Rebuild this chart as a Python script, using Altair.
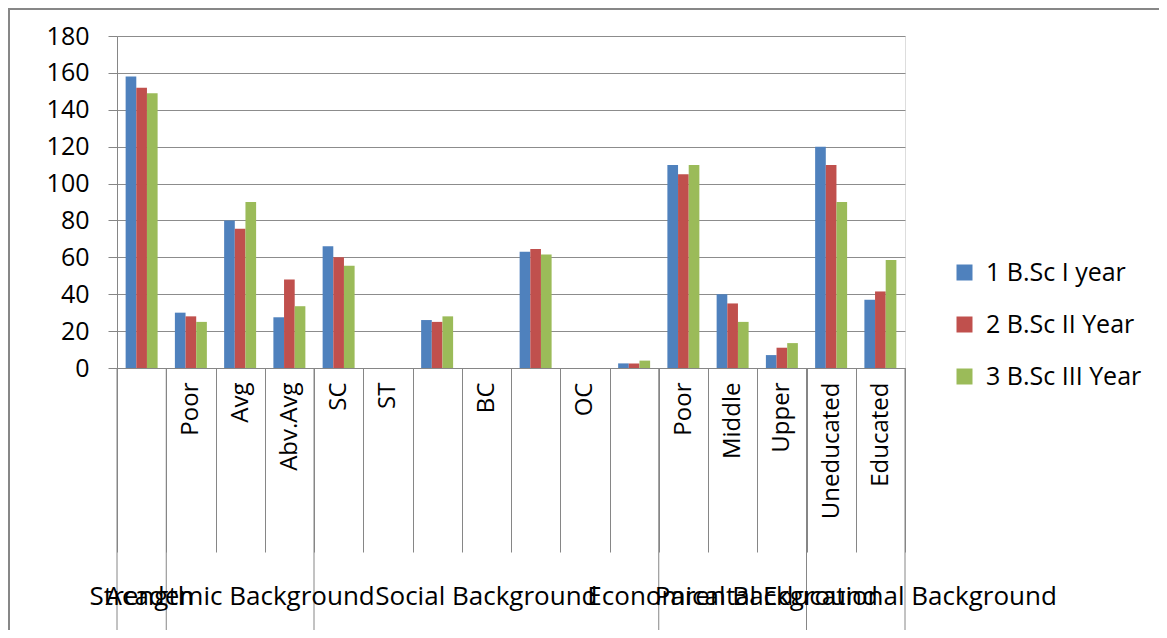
import altair as alt
import pandas as pd

# ---- data ----
cat_ids = list(range(16))
level1 = ["", "Poor", "Avg", "Abv.Avg", "SC", "ST", "", "BC", "", "OC", "",
          "Poor", "Middle", "Upper", "Uneducated", "Educated"]
series = ["1 B.Sc I year", "2 B.Sc II Year", "3 B.Sc III Year"]
y_first = [158, 30, 80, 27.5, 66, None, 26, None, 63, None, 2.5, 110, 40, 7, 120, 37]
y_second = [152, 28, 75.5, 48, 60, None, 25, None, 64.5, None, 2.5, 105, 35, 11, 110, 41.5]
y_third = [149, 25, 90, 33.5, 55.5, None, 28, None, 61.5, None, 4, 110, 25, 13.5, 90, 58.5]
colors = ["#4F81BD", "#C0504D", "#9BBB59"]

groups = ["Strength", "Academic Background", "Social Background",
          "Economical Background", "Parental Educational Background"]
group_center_cat = [0, 2, 7, 12]          # label centred on these categories
group_edge_label_cat = [15]               # label centred on left edge of this category
group_start_cat = [0, 1, 4, 11, 14]       # group boundaries (left edge)
group_end_cat = [15]                      # final boundary (right edge)

FONT = "Open Sans"

rows = []
for s, vals in zip(series, [y_first, y_second, y_third]):
    for c, v in zip(cat_ids, vals):
        rows.append({"cat": c, "series": s, "value": v})
df = pd.DataFrame(rows)

label_expr = "[" + ",".join("'" + l + "'" for l in level1) + "][datum.value]"

x_scale = alt.Scale(domain=cat_ids, paddingInner=0, paddingOuter=0)

bars = alt.Chart(df).mark_bar().encode(
    x=alt.X("cat:O", scale=x_scale, title=None,
            axis=alt.Axis(labelExpr=label_expr, labelAngle=270, labelAlign="right",
                          labelBaseline="middle", labelPadding=-170, tickBand="extent",
                          tickSize=184, labelFontSize=24, labelFont=FONT, labelColor="#000000",
                          labelOverlap=False, labelLimit=0, domainColor="#868686",
                          tickColor="#868686", grid=False)),
    xOffset=alt.XOffset("series:N", scale=alt.Scale(domain=series, paddingInner=0, paddingOuter=0.81)),
    y=alt.Y("value:Q", scale=alt.Scale(domain=[0, 180]), title=None,
            axis=alt.Axis(values=list(range(0, 181, 20)), grid=True, gridColor="#8c8c8c",
                          domainColor="#868686", tickColor="#868686", tickSize=9,
                          labelPadding=19, labelFontSize=25, labelFont=FONT,
                          labelColor="#000000")),
    color=alt.Color("series:N", scale=alt.Scale(domain=series, range=colors),
                    legend=alt.Legend(orient="none", legendX=835, legendY=224, title=None,
                                      symbolType="square", symbolSize=256, symbolStrokeWidth=0,
                                      labelFontSize=25, labelFont=FONT, labelColor="#000000",
                                      rowPadding=26, labelOffset=9, padding=0)),
)

gl1 = pd.DataFrame({"cat": group_center_cat, "label": groups[:4]})
gl2 = pd.DataFrame({"cat": group_edge_label_cat, "label": groups[4:]})
text1 = alt.Chart(gl1).mark_text(font=FONT, fontSize=26, color="#000000", baseline="middle").encode(
    x=alt.X("cat:O", bandPosition=0.5, title=None), y=alt.value(561), text="label:N")
text2 = alt.Chart(gl2).mark_text(font=FONT, fontSize=26, color="#000000", baseline="middle").encode(
    x=alt.X("cat:O", bandPosition=0, title=None), y=alt.value(561), text="label:N")

r1 = alt.Chart(pd.DataFrame({"cat": group_start_cat})).mark_rule(color="#868686", strokeWidth=1).encode(
    x=alt.X("cat:O", bandPosition=0, title=None), y=alt.value(332), y2=alt.value(594))
r2 = alt.Chart(pd.DataFrame({"cat": group_end_cat})).mark_rule(color="#868686", strokeWidth=1).encode(
    x=alt.X("cat:O", bandPosition=1, title=None), y=alt.value(332), y2=alt.value(594))

frame = alt.Chart(pd.DataFrame({"k": [0]})).mark_rect(filled=False, stroke="#878787", strokeWidth=2).encode(
    x=alt.value(-108), x2=alt.value(1100), y=alt.value(-27), y2=alt.value(700))

chart = alt.layer(frame, bars, r1, r2, text1, text2).properties(
    width=788, height=332,
    padding={"left": 109, "top": 28, "right": 254, "bottom": 262},
    autosize=alt.AutoSizeParams(type="none"),
).configure_view(stroke=None).configure(font=FONT, background="white")

chart.save("out.html", embed_options={"renderer": "svg", "actions": False})
